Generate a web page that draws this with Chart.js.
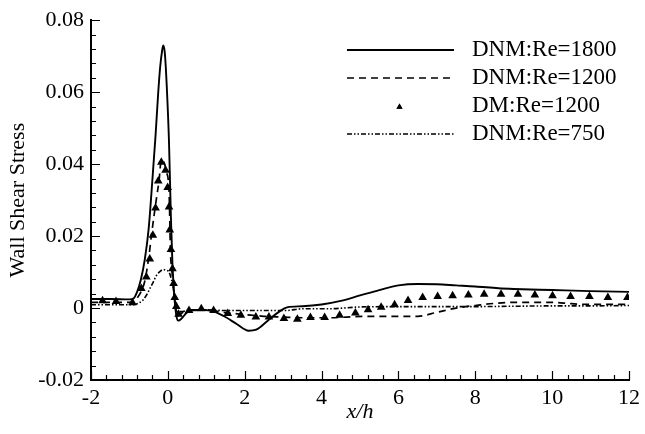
<!DOCTYPE html>
<html>
<head>
<meta charset="utf-8">
<script src="https://cdn.jsdelivr.net/npm/chart.js@4.4.1/dist/chart.umd.min.js"></script>
<style>
  html, body { margin: 0; padding: 0; background: #fff; }
  #wrap { width: 645px; height: 434px; }
</style>
</head>
<body>
<div id="wrap"><canvas id="c" width="645" height="434"></canvas></div>
<script>
// x/h positions and wall shear stress for each series
const re1800X = [-2, -1.5, -1, -0.9, -0.8, -0.7, -0.6, -0.5, -0.4, -0.32, -0.25, -0.2, -0.15, -0.12, -0.08, -0.03, 0.03, 0.08, 0.12, 0.17, 0.22, 0.27, 0.35, 0.5, 0.7, 0.9, 1.2, 1.5, 1.8, 2.1, 2.3, 2.6, 2.9, 3.1, 3.5, 4.0, 4.5, 5.0, 5.5, 6.0, 6.5, 7.0, 7.5, 8, 8.6, 9, 10, 11, 12];
const re1800Y = [0.0025, 0.0025, 0.0024, 0.0026, 0.0045, 0.008, 0.0135, 0.022, 0.036, 0.048, 0.060, 0.067, 0.0715, 0.073, 0.071, 0.062, 0.046, 0.025, 0.012, 0.003, -0.002, -0.0035, -0.003, -0.0012, -0.0006, -0.0005, -0.001, -0.0025, -0.0045, -0.0063, -0.006, -0.0035, -0.001, 0.0002, 0.0005, 0.001, 0.002, 0.0035, 0.005, 0.0063, 0.0067, 0.0066, 0.0063, 0.006, 0.0055, 0.0053, 0.005, 0.0047, 0.0045];

const re1200X = [-2, -1.5, -1, -0.9, -0.8, -0.7, -0.6, -0.49, -0.43, -0.34, -0.28, -0.23, -0.17, -0.1, -0.04, 0.03, 0.05, 0.065, 0.1, 0.15, 0.2, 0.24, 0.3, 0.45, 0.6, 0.9, 1.2, 1.6, 2.0, 2.5, 3.0, 3.5, 4.2, 5.1, 6.0, 6.5, 7.0, 7.5, 8.0, 8.5, 9.0, 10.0, 10.5, 11, 12];
const re1200Y = [0.0016, 0.0016, 0.0016, 0.0018, 0.0028, 0.0045, 0.0075, 0.0146, 0.020, 0.0272, 0.0317, 0.0353, 0.0412, 0.0405, 0.038, 0.0326, 0.0245, 0.0163, 0.011, 0.0055, 0.001, -0.0023, -0.0018, -0.0009, -0.0005, -0.0005, -0.0008, -0.0014, -0.0018, -0.0023, -0.0025, -0.0027, -0.0027, -0.0023, -0.0023, -0.0023, -0.0012, 0.0, 0.0007, 0.0013, 0.0016, 0.0016, 0.0012, 0.001, 0.001];

const dmX = [-1.70, -1.35, -0.92, -0.69, -0.56, -0.47, -0.39, -0.32, -0.25, -0.17, -0.06, -0.005, 0.03, 0.05, 0.08, 0.12, 0.15, 0.18, 0.22, 0.28, 0.55, 0.87, 1.19, 1.56, 1.90, 2.29, 2.63, 3.02, 3.37, 3.71, 4.08, 4.47, 4.88, 5.21, 5.55, 5.90, 6.25, 6.63, 7.02, 7.41, 7.82, 8.23, 8.67, 9.11, 9.55, 10.01, 10.48, 10.97, 11.45, 11.96];
const dmY = [0.002, 0.0018, 0.0015, 0.0054, 0.0086, 0.0136, 0.0202, 0.0278, 0.0353, 0.0405, 0.0383, 0.0335, 0.0281, 0.0217, 0.0163, 0.0109, 0.0068, 0.0029, 0.0004, -0.0017, -0.0007, -0.0002, -0.0007, -0.0015, -0.002, -0.0025, -0.0025, -0.0029, -0.0031, -0.0026, -0.0026, -0.002, -0.0014, -0.0005, 0.0002, 0.0009, 0.0021, 0.0029, 0.0032, 0.0034, 0.0036, 0.0038, 0.0038, 0.0038, 0.0036, 0.0034, 0.0032, 0.0032, 0.0029, 0.0029];

const re750X = [-2, -1.5, -1, -0.86, -0.75, -0.64, -0.55, -0.47, -0.38, -0.3, -0.2, -0.12, -0.05, 0.03, 0.08, 0.12, 0.18, 0.24, 0.35, 0.6, 1.0, 1.5, 2.0, 2.5, 3.07, 3.5, 4.2, 5.0, 6.0, 7, 8, 9, 10, 11, 12];
const re750Y = [0.0009, 0.0009, 0.0009, 0.001, 0.0014, 0.0023, 0.0037, 0.0054, 0.0072, 0.009, 0.0102, 0.0107, 0.0105, 0.010, 0.0085, 0.0068, 0.0027, -0.0009, -0.001, -0.0005, -0.0005, -0.0007, -0.0007, -0.0007, -0.0007, -0.0002, -0.0002, 0.0003, 0.0004, 0.0004, 0.0004, 0.0005, 0.0006, 0.0006, 0.0007];

const seriesNames = ['DNM:Re=1800', 'DNM:Re=1200', 'DM:Re=1200', 'DNM:Re=750'];
const xTicks = [-2, 0, 2, 4, 6, 8, 10, 12];
const yTicks = [-0.02, 0, 0.02, 0.04, 0.06, 0.08];

const FONT = 'Liberation Serif';

function pts(xs, ys) {
  return xs.map((x, i) => ({ x: x, y: ys[i] }));
}

const lineStyle = (dash, width) => ({
  showLine: true,
  borderColor: '#000',
  backgroundColor: '#000',
  borderWidth: width,
  borderDash: dash,
  pointRadius: 0,
  cubicInterpolationMode: 'monotone'
});

const datasets = [
  Object.assign({ label: seriesNames[0], data: pts(re1800X, re1800Y) }, lineStyle([], 1.9)),
  Object.assign({ label: seriesNames[1], data: pts(re1200X, re1200Y) }, lineStyle([7, 5], 1.7)),
  {
    label: seriesNames[2],
    data: pts(dmX, dmY),
    showLine: false,
    pointStyle: 'triangle',
    pointRadius: 5,
    backgroundColor: '#000',
    borderColor: '#000',
    borderWidth: 0
  },
  Object.assign({ label: seriesNames[3], data: pts(re750X, re750Y) }, lineStyle([5, 2, 1.5, 2, 1.5, 2], 1.6))
];

// inward ticks (major + minor) drawn from the scales
const innerTicks = {
  id: 'innerTicks',
  afterDraw(chart) {
    const ctx = chart.ctx;
    const xs = chart.scales.x, ys = chart.scales.y;
    const a = chart.chartArea;
    ctx.save();
    ctx.strokeStyle = '#000';
    ctx.lineWidth = 1.2;
    ctx.beginPath();
    for (let i = 0; i <= 35; i++) {
      const v = -2 + i * 0.4;
      const px = Math.round(xs.getPixelForValue(v)) + 0.5;
      const len = (i % 5 === 0) ? 9 : 5;
      ctx.moveTo(px, a.bottom);
      ctx.lineTo(px, a.bottom - len);
    }
    for (let i = 0; i <= 25; i++) {
      const v = -0.02 + i * 0.004;
      const py = Math.round(ys.getPixelForValue(v)) + 0.5;
      const len = (i % 5 === 0) ? 9 : 5;
      ctx.moveTo(a.left, py);
      ctx.lineTo(a.left + len, py);
    }
    ctx.stroke();
    ctx.restore();
  }
};

// legend in the upper right, styles taken from the datasets
const legendBox = {
  id: 'legendBox',
  afterDraw(chart) {
    const ctx = chart.ctx;
    const rows = [50, 78, 106, 134];
    const x0 = 347, x1 = 454, tx = 472;
    ctx.save();
    chart.data.datasets.forEach((ds, i) => {
      const y = rows[i];
      if (ds.showLine) {
        ctx.strokeStyle = '#000';
        ctx.lineWidth = ds.borderWidth;
        ctx.setLineDash(ds.borderDash);
        ctx.beginPath();
        ctx.moveTo(x0, y);
        ctx.lineTo(x1, y);
        ctx.stroke();
        ctx.setLineDash([]);
      } else {
        Chart.helpers.drawPoint(ctx, { pointStyle: 'triangle', radius: 3.5, borderWidth: 0 }, (x0 + x1) / 2 - 1, y + 1);
        ctx.fillStyle = '#000';
        ctx.fill();
      }
      ctx.fillStyle = '#000';
      ctx.font = '23px "' + FONT + '"';
      ctx.textBaseline = 'middle';
      ctx.textAlign = 'left';
      ctx.fillText(ds.label, tx, y);
    });
    ctx.restore();
  }
};

new Chart(document.getElementById('c'), {
  type: 'scatter',
  data: { datasets: datasets },
  plugins: [innerTicks, legendBox],
  options: {
    responsive: false,
    animation: false,
    layout: { padding: { top: 13, right: 14, left: 0, bottom: 0 } },
    plugins: { legend: { display: false }, tooltip: { enabled: false } },
    scales: {
      x: {
        type: 'linear',
        min: -2,
        max: 12,
        afterBuildTicks: (s) => { s.ticks = xTicks.map(v => ({ value: v })); },
        afterFit: (s) => { s.height = 54; },
        grid: { display: false, drawTicks: false },
        border: { display: true, color: '#000', width: 2 },
        ticks: {
          color: '#000',
          padding: 5,
          maxRotation: 0,
          font: { family: FONT, size: 22 },
          callback: (v) => String(v)
        },
        title: {
          display: true,
          text: 'x/h',
          color: '#000',
          font: { family: FONT, size: 22, style: 'italic', lineHeight: 1.2 },
          padding: { top: 0, bottom: 9 }
        }
      },
      y: {
        type: 'linear',
        min: -0.02,
        max: 0.08,
        afterBuildTicks: (s) => { s.ticks = yTicks.map(v => ({ value: v })); },
        afterFit: (s) => { s.width = 91; },
        grid: { display: false, drawTicks: false },
        border: { display: true, color: '#000', width: 2 },
        ticks: {
          color: '#000',
          padding: 7,
          font: { family: FONT, size: 22 },
          callback: (v) => String(Number(v.toFixed(2)))
        },
        title: {
          display: true,
          text: 'Wall Shear Stress',
          color: '#000',
          font: { family: FONT, size: 22, lineHeight: 1.2 },
          padding: { top: 5, bottom: 0 }
        }
      }
    }
  }
});
</script>
</body>
</html>
